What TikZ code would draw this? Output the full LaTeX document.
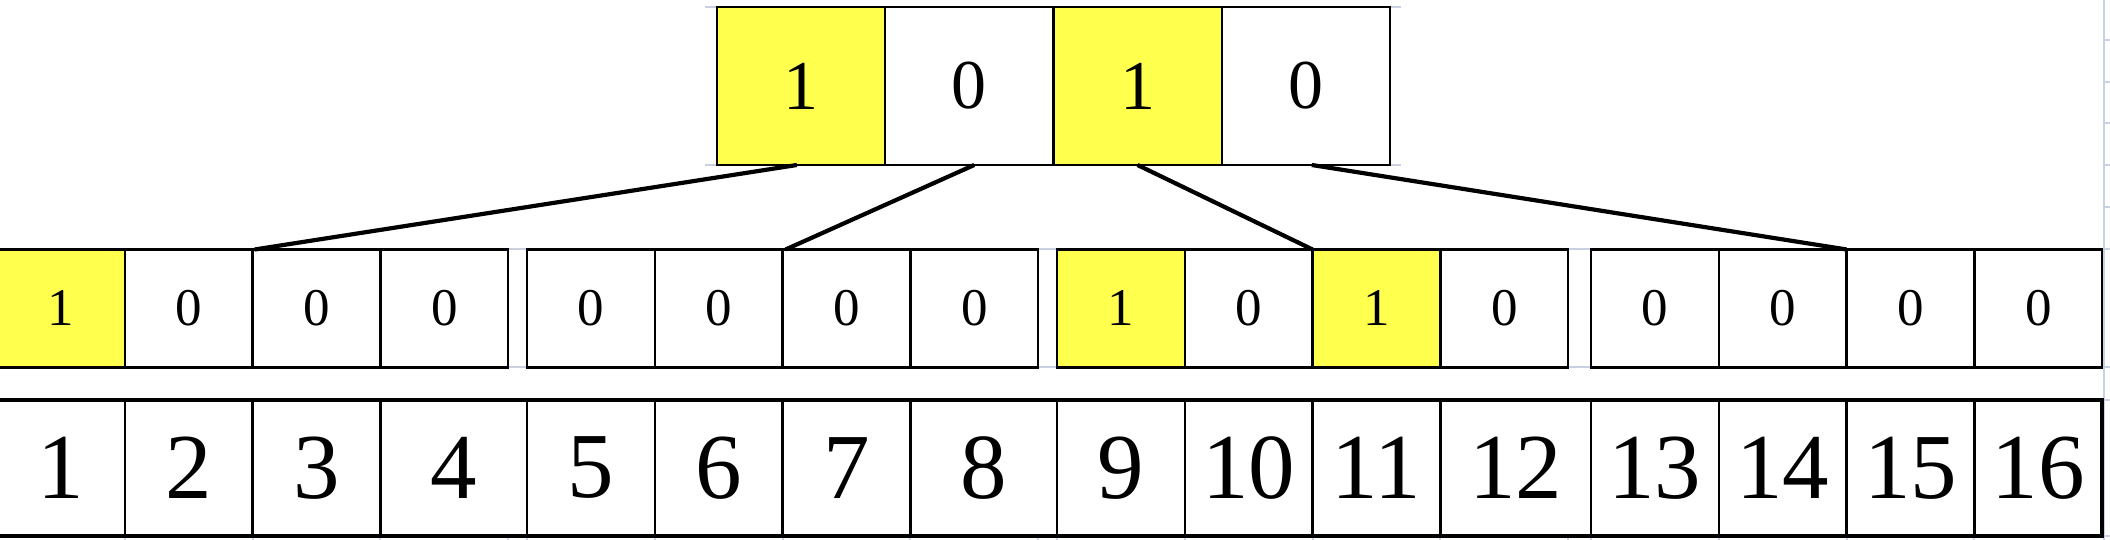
\documentclass[tikz,border=0pt]{standalone}
\usepackage{fontspec}
\setmainfont{Liberation Serif}
\definecolor{hl}{RGB}{255,255,77}
\definecolor{gridgray}{RGB}{200,208,225}
\tikzset{
  cellbox/.style={draw=black, line width=2.3pt, inner sep=0pt, outer sep=0pt, anchor=center},
  topcell/.style={cellbox, minimum width=168.3pt, minimum height=158pt, font=\fontsize{70}{70}\selectfont},
  midcell/.style={cellbox, minimum width=127.8pt, minimum height=118pt, font=\fontsize{53}{53}\selectfont},
  botcell/.style={cellbox, minimum height=135.7pt, font=\fontsize{93}{93}\selectfont},
  link/.style={draw=black, line width=4.2pt},
  grid/.style={draw=gridgray, line width=2pt}
}
\begin{document}
\begin{tikzpicture}[x=1pt,y=-1pt]
\useasboundingbox[fill=white] (0,0) rectangle (2110,540);
% faint spreadsheet grid remnants
\draw[grid] (2104,0) -- (2104,540);
\foreach \yy in {40,82,123,165,207,249,367,400,536}
  \draw[grid] (2104,\yy) -- (2110,\yy);
\draw[grid] (705,7) -- (717,7);
\draw[grid] (705,165) -- (717,165);
\draw[grid] (1390,7) -- (1401,7);
\draw[grid] (1390,165) -- (1401,165);
\foreach \a/\b in {508/527,1038/1057,1568/1591}{
  \draw[grid] (\a,249) -- (\b,249);
  \draw[grid] (\a,367) -- (\b,367);
}
\foreach \xx in {124.8,252.6,380.4,508.2,527,654.8,782.6,910.4,1038.2,1057,1184.8,1312.6,1440.4,1568.2,1591,1718.8,1846.6,1974.4}
  \draw[grid] (\xx,537) -- (\xx,540);

% top row
\node[topcell, fill=hl]    (t1) at (800.9,86) {1};
\node[topcell, fill=white] (t2) at (969.2,86) {0};
\node[topcell, fill=hl]    (t3) at (1137.5,86) {1};
\node[topcell, fill=white] (t4) at (1305.8,86) {0};

% middle row
\foreach \i/\xx/\v/\f in {1/60.9/1/hl, 2/188.7/0/white, 3/316.5/0/white, 4/444.3/0/white,
  5/590.9/0/white, 6/718.7/0/white, 7/846.5/0/white, 8/974.3/0/white,
  9/1120.9/1/hl, 10/1248.7/0/white, 11/1376.5/1/hl, 12/1504.3/0/white,
  13/1654.9/0/white, 14/1782.7/0/white, 15/1910.5/0/white, 16/2038.3/0/white}
  \node[midcell, fill=\f] (m\i) at (\xx,308.5) {\v};

% bottom row
\foreach \i/\xx/\w in {1/60.9/127.8, 2/188.7/127.8, 3/316.5/127.8, 4/453.7/146.6,
  5/590.9/127.8, 6/718.7/127.8, 7/846.5/127.8, 8/983.7/146.6,
  9/1120.9/127.8, 10/1248.7/127.8, 11/1376.5/127.8, 12/1515.7/150.6,
  13/1654.9/127.8, 14/1782.7/127.8, 15/1910.5/127.8, 16/2038.3/127.8}
  \node[botcell, minimum width=\w pt] (b\i) at (\xx,467.85) {\i};
\draw[line width=3.6pt] (b1.north west) rectangle (b16.south east);

% connectors
\draw[link] ([xshift=-4pt]t1.south) -- ([xshift=2pt]m2.north east);
\draw[link] ([xshift=5pt]t2.south) -- ([xshift=3pt]m6.north east);
\draw[link] (t3.south) -- (m10.north east);
\draw[link] ([xshift=6pt]t4.south) -- (m14.north east);
\end{tikzpicture}
\end{document}
